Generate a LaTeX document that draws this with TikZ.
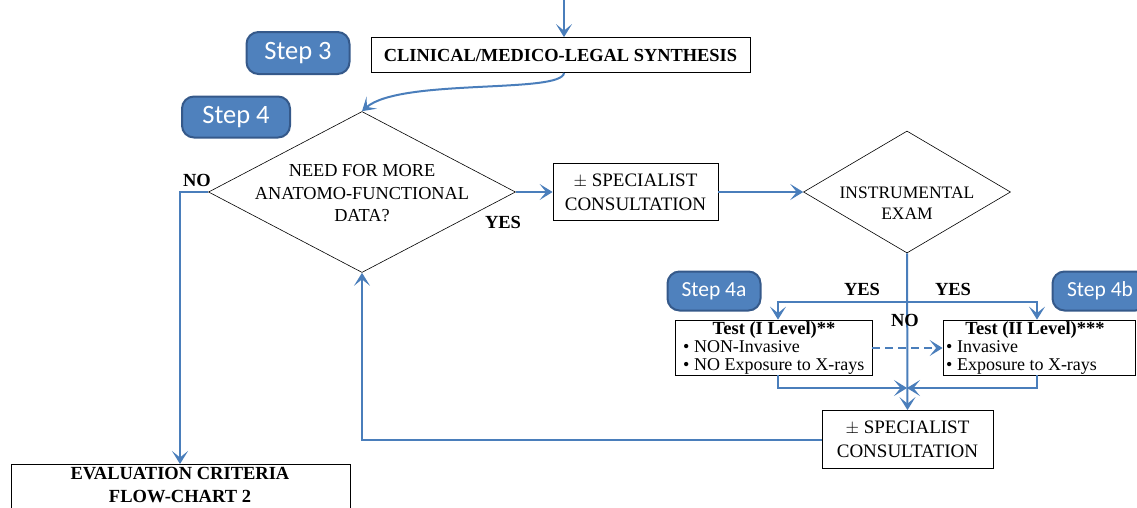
\documentclass[tikz,border=0pt]{standalone}
\usepackage{fontspec}
\setmainfont{Liberation Serif}
\newfontfamily\stepfont{Carlito}
\usetikzlibrary{arrows.meta,shapes.geometric}
\definecolor{lineblue}{HTML}{4A7EBB}
\definecolor{stepfill}{HTML}{4F81BD}
\definecolor{stepdraw}{HTML}{35598A}
\begin{document}
\begin{tikzpicture}[x=1pt,y=-1pt,
  stepbox/.style={draw=stepdraw, line width=2pt, fill=stepfill, rounded corners=12pt,
    text=white, font=\stepfont\fontsize{26.5}{30}\selectfont, inner sep=0pt},
  smallstep/.style={stepbox, font=\stepfont\fontsize{21.5}{24}\selectfont},
  boxnode/.style={draw=black, line width=0.8pt, fill=white, inner sep=0pt, align=center},
  dmd/.style={draw=black, line width=0.6pt, diamond, inner sep=0pt},
  conn/.style={draw=lineblue, line width=2pt, -{Stealth[length=13pt,width=16pt,inset=6.5pt]}},
  plain/.style={draw=lineblue, line width=2pt},
  lbl/.style={font=\bfseries\fontsize{18.5}{20}\selectfont, inner sep=0pt},
  txt/.style={font=\fontsize{18.3}{22.5}\selectfont},
  sptxt/.style={font=\fontsize{19}{24}\selectfont},
  bultxt/.style={font=\fontsize{18}{17.5}\selectfont, inner sep=0pt, anchor=west, align=left},
  headtxt/.style={font=\bfseries\fontsize{18.5}{20}\selectfont, inner sep=0pt},
]
\useasboundingbox (0,0) rectangle (1137,507);

% nodes
\node[stepbox, minimum width=103pt, minimum height=42pt] (s3) at (298,53) {Step 3};
\node[boxnode, minimum width=379pt, minimum height=35pt, font=\bfseries\fontsize{18.4}{20}\selectfont] (syn) at (560.5,55) {CLINICAL/MEDICO-LEGAL SYNTHESIS};
\coordinate (top) at (564,0);

\node[stepbox, minimum width=108pt, minimum height=41pt] (s4) at (236,117) {Step 4};
\node[dmd, minimum width=307pt, minimum height=161pt,
  label={[txt, align=center, yshift=-1.5pt]center:NEED FOR MORE\\ANATOMO-FUNCTIONAL\\DATA?}] (d1) at (362,192) {};
\node[lbl] (no1) at (197,180) {NO};
\node[lbl] (yes1) at (503,222) {YES};

\node[boxnode, sptxt, minimum width=165pt, minimum height=57pt] (sp1) at (635.5,192) {$\pm$ SPECIALIST\\CONSULTATION};
\node[dmd, minimum width=207pt, minimum height=122pt,
  label={[font=\fontsize{17.5}{21}\selectfont, align=center, yshift=-11pt]center:INSTRUMENTAL\\EXAM}] (d2) at (907,192) {};

\node[smallstep, minimum width=93pt, minimum height=39pt] (s4a) at (714,291) {Step 4a};
\node[smallstep, minimum width=95pt, minimum height=39pt] (s4b) at (1100,291) {Step 4b};

\node[boxnode, minimum width=197pt, minimum height=55pt] (t1) at (773.5,347.5) {};
\node[headtxt] (t1h) at (774,330) {Test (I Level)**};
\node[bultxt] (t1b) at (683,357.5) {\textbullet\ NON-Invasive\\\textbullet\ NO Exposure to X-rays};

\node[boxnode, minimum width=192pt, minimum height=55pt] (t2) at (1039,347.5) {};
\node[headtxt] (t2h) at (1035,330) {Test (II Level)***};
\node[bultxt] (t2b) at (946,357.5) {\textbullet\ Invasive\\\textbullet\ Exposure to X-rays};

\node[lbl] (yes2) at (862,289) {YES};
\node[lbl] (yes3) at (953,289) {YES};

\node[boxnode, sptxt, minimum width=171pt, minimum height=58pt] (sp2) at (907.5,439.5) {$\pm$ SPECIALIST\\CONSULTATION};

\node[boxnode, minimum width=339pt, minimum height=60pt, anchor=north west] (ev) at (11,464) {};
\node[font=\bfseries\fontsize{18.5}{23}\selectfont, align=center, inner sep=0pt] (evt) at (180,485.5) {EVALUATION CRITERIA\\FLOW-CHART 2};

% connectors
\draw[conn] (top) -- (syn.north -| top);
\draw[conn] (syn.south -| top) .. controls (562,94) and (400,78) .. (d1.north);
\draw[conn] (d1.west) -- (180,192) -- (ev.north -| 180,0);
\draw[conn] (d1.east) -- (sp1.west |- d1.east);
\draw[conn] (sp1.east |- d2.west) -- (d2.west);
\draw[conn] (d2.south) -- (sp2.north);
\draw[plain] (778,302) -- (1037,302);
\draw[conn] (778,301) -- (t1.north -| 778,0);
\draw[conn] (1037,301) -- (t2.north -| 1037,0);
\draw[conn, dash pattern=on 8pt off 5pt] (t1.east |- 0,348) -- (t2.west |- 0,348);
\draw[conn] (t1.south -| 778,0) -- (778,388) -- (907,388);
\draw[conn] (t2.south -| 1037,0) -- (1037,388) -- (907,388);
\draw[conn] (sp2.west) -- (362,439.5) -- (d1.south -| 362,0);
\node[lbl] (no2) at (905,320) {NO};
\end{tikzpicture}
\end{document}
